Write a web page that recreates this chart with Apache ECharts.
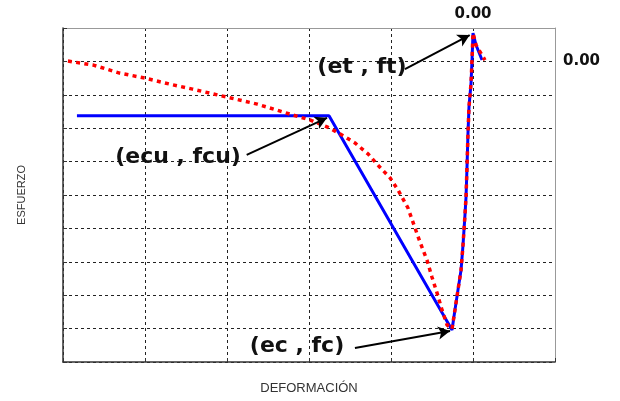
<!DOCTYPE html>
<html>
<head>
<meta charset="utf-8">
<script src="https://cdn.jsdelivr.net/npm/echarts@6/dist/echarts.min.js"></script>
<style>html,body{margin:0;padding:0;background:#fff}#c{width:620px;height:401px}</style>
</head>
<body>
<div id="c"></div>
<script>
// Blue: idealized envelope (strain, stress)
var blueStrain = [-4.83, -1.756, -0.256, -0.22, -0.183, -0.146, -0.122, -0.098, -0.085, -0.073, -0.061, -0.049, -0.024, -0.012, 0.0, 0.037, 0.110];
var blueStress = [-1.63, -1.63, -8.04, -7.44, -6.84, -6.25, -5.50, -4.60, -4.06, -3.16, -2.14, -1.37, -0.65, 0.04, 0.85, 0.49, 0.04];
// Red dotted: curve
var redStrain = [-4.94, -4.63, -4.31, -4.0, -3.70, -3.42, -3.0, -2.63, -2.35, -2.11, -1.99, -1.78, -1.62, -1.44, -1.28, -1.15, -1.01, -0.915, -0.793, -0.707, -0.646, -0.561, -0.50, -0.439, -0.378, -0.317, -0.256, -0.22, -0.183, -0.146, -0.122, -0.098, -0.085, -0.073, -0.061, -0.049, -0.024, -0.012, 0.0, 0.037, 0.146];
var redStress = [0.01, -0.11, -0.35, -0.50, -0.68, -0.83, -1.07, -1.28, -1.49, -1.67, -1.75, -1.96, -2.17, -2.44, -2.77, -3.13, -3.49, -3.85, -4.39, -4.99, -5.41, -5.95, -6.46, -6.93, -7.44, -7.89, -8.01, -7.44, -6.84, -6.25, -5.50, -4.60, -4.06, -3.16, -2.14, -1.37, -0.65, 0.04, 0.85, 0.49, 0.04];
// Annotation labels and arrows (from, to) in data units
var annTexts = ['(et , ft)', '(ecu , fcu)', '(ec , fc)'];
var annFrom = [[-0.83, -0.23], [-2.76, -2.80], [-1.44, -8.58]];
var annTo = [[-0.04, 0.79], [-1.78, -1.69], [-0.28, -8.07]];
var xTickLabel = '0.00', yTickLabel = '0.00';

function zip(a, b) { return a.map(function (v, i) { return [v, b[i]]; }); }

var chart = echarts.init(document.getElementById('c'));
var arrowData = annFrom.map(function (f, i) { return [{ coord: f }, { coord: annTo[i] }]; });
var annPos = [[362, 67], [178, 157], [297, 346]];

chart.setOption({
  animation: false,
  grid: { left: 63, right: 65, top: 28, bottom: 39 },
  xAxis: [{
    type: 'value', min: -5, max: 1, interval: 1, position: 'bottom',
    name: 'DEFORMACIÓN', nameLocation: 'middle', nameGap: 20,
    nameTextStyle: { fontFamily: 'Liberation Sans', fontSize: 13, color: '#333' },
    axisLine: { onZero: false, lineStyle: { color: '#333', width: 1.5 } },
    axisTick: { show: true, inside: true, length: 4, lineStyle: { color: '#333' } },
    axisLabel: { show: false },
    splitLine: { show: true, lineStyle: { color: '#222', type: [3, 3], width: 1 } }
  }, {
    type: 'value', min: -5, max: 1, interval: 1, position: 'top',
    axisLine: { onZero: false, lineStyle: { color: '#999', width: 1 } },
    axisTick: { show: false },
    axisLabel: { show: true, margin: 6, fontFamily: 'DejaVu Sans', fontWeight: 'bold', fontSize: 15, color: '#111',
      formatter: function (v) { return v === 0 ? xTickLabel : ''; } },
    splitLine: { show: false }
  }],
  yAxis: [{
    type: 'value', min: -9, max: 1, interval: 1, position: 'left',
    name: 'ESFUERZO', nameLocation: 'middle', nameGap: 36,
    nameTextStyle: { fontFamily: 'Liberation Sans', fontSize: 11, color: '#333' },
    axisLine: { onZero: false, lineStyle: { color: '#333', width: 1.5 } },
    axisTick: { show: true, inside: true, length: 4, lineStyle: { color: '#333' } },
    axisLabel: { show: false },
    splitLine: { show: true, lineStyle: { color: '#222', type: [3, 3], width: 1 } }
  }, {
    type: 'value', min: -9, max: 1, interval: 1, position: 'right',
    axisLine: { onZero: false, lineStyle: { color: '#999', width: 1 } },
    axisTick: { show: false },
    axisLabel: { show: true, margin: 8, fontFamily: 'DejaVu Sans', fontWeight: 'bold', fontSize: 15, color: '#111',
      formatter: function (v) { return v === 0 ? yTickLabel : ''; } },
    splitLine: { show: false }
  }],
  series: [{
    type: 'line', xAxisIndex: 0, yAxisIndex: 0, data: zip(blueStrain, blueStress),
    symbol: 'none', lineStyle: { color: '#0000ff', width: 3 }, z: 2,
    markLine: {
      silent: true, symbol: ['none', 'arrow'], symbolSize: [10, 12],
      lineStyle: { color: '#000', width: 2, type: 'solid' },
      label: { show: false }, emphasis: { disabled: true },
      data: arrowData
    }
  }, {
    type: 'line', xAxisIndex: 0, yAxisIndex: 0, data: zip(redStrain, redStress),
    symbol: 'none', lineStyle: { color: '#ff0000', width: 3.5, type: [4, 4.3] }, z: 3
  }],
  graphic: annTexts.map(function (t, i) {
    return { type: 'text', x: annPos[i][0], y: annPos[i][1], z: 10,
      style: { text: t, fontFamily: 'DejaVu Sans', fontWeight: 'bold', fontSize: 22, fill: '#111', align: 'center', verticalAlign: 'middle' } };
  })
});
</script>
</body>
</html>
